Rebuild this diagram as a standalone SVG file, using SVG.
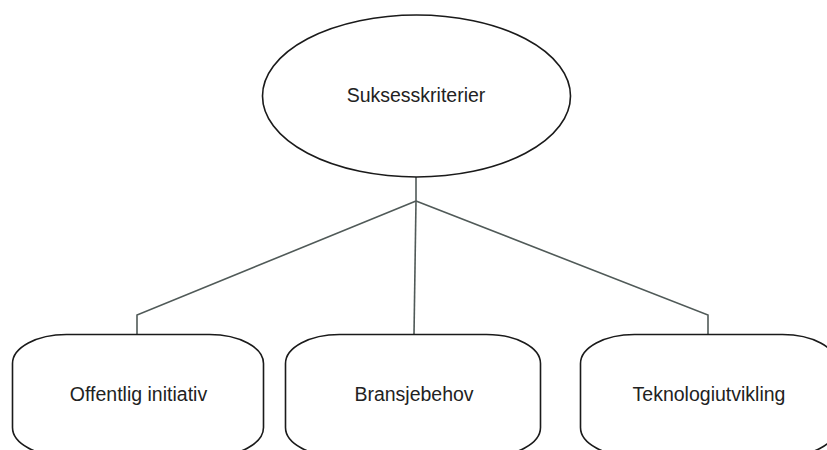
<svg xmlns="http://www.w3.org/2000/svg" width="827" height="450" viewBox="0 0 827 450">
<style>
.node{fill:#fff;stroke:#1a1a1a;stroke-width:1.6}
.lbl{font-family:"Liberation Sans",Arial,sans-serif;font-size:19.5px;fill:#222;text-anchor:middle}
.conn{fill:none;stroke:#505a58;stroke-width:1.6}
</style>
<rect width="827" height="450" fill="#fff"/>
<g id="connectors">
<path class="conn" d="M416,177 V201"/>
<path class="conn" d="M416,201 L137,315 V335"/>
<path class="conn" d="M416,201 L414,335"/>
<path class="conn" d="M416,201 L708,315 V335"/>
</g>
<g id="root">
<ellipse class="node" cx="416.5" cy="96" rx="154" ry="81"/>
<text class="lbl" x="416" y="101.5">Suksesskriterier</text>
</g>
<g id="n1">
<rect class="node" x="12.5" y="334.5" width="251" height="122" rx="54" ry="29"/>
<text class="lbl" x="138.5" y="400.5">Offentlig initiativ</text>
</g>
<g id="n2">
<rect class="node" x="285.5" y="334.5" width="255" height="122" rx="54" ry="29"/>
<text class="lbl" x="414" y="400.5">Bransjebehov</text>
</g>
<g id="n3">
<rect class="node" x="580.5" y="334.5" width="256" height="122" rx="54" ry="29"/>
<text class="lbl" x="709" y="400.5">Teknologiutvikling</text>
</g>
</svg>
